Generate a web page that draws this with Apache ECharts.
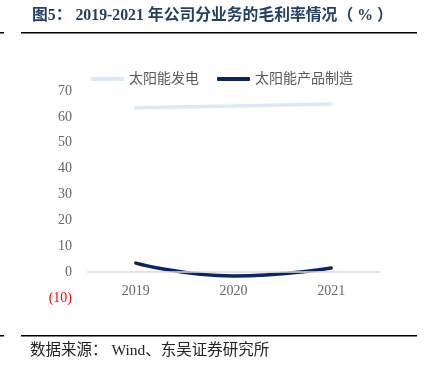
<!DOCTYPE html>
<html><head><meta charset="utf-8">
<script src="https://cdn.jsdelivr.net/npm/echarts@6/dist/echarts.min.js"></script>
<style>html,body{margin:0;padding:0;background:#fff}#c{width:425px;height:372px}</style>
</head><body><div id="c"></div>
<script>
const categories = ['2019', '2020', '2021'];
const solarPower = [63.5, 64.2, 65.0];
const solarProducts = [3.5, -1.5, 1.6];
const yTicks = { min: -10, max: 70, interval: 10 };
const seriesNames = ['太阳能发电', '太阳能产品制造'];

const chart = echarts.init(document.getElementById('c'), null, { renderer: 'canvas' });
const serif = '"Liberation Serif","Noto Sans CJK SC",serif';
chart.setOption({
  animation: false,
  backgroundColor: '#fff',
  grid: { left: 87, right: 45, top: 91, bottom: 74 },
  legend: {
    top: 67, left: 86, itemGap: 18, itemWidth: 33, itemHeight: 4,
    icon: 'roundRect',
    textStyle: { color: '#595959', fontSize: 14, fontFamily: serif },
    data: seriesNames
  },
  xAxis: {
    type: 'category', data: categories, boundaryGap: true,
    axisLine: { show: false, onZero: false },
    axisTick: { show: false },
    axisLabel: { color: '#666', fontSize: 14, fontFamily: serif, margin: -14 }
  },
  yAxis: {
    type: 'value', min: yTicks.min, max: yTicks.max, interval: yTicks.interval,
    splitLine: { show: false }, axisLine: { show: false }, axisTick: { show: false },
    axisLabel: {
      fontSize: 14, fontFamily: serif, margin: 15,
      formatter: v => v < 0 ? '{neg|(' + Math.abs(v) + ')}' : '{pos|' + v + '}',
      rich: {
        neg: { color: '#ff0000', fontSize: 14, fontFamily: serif },
        pos: { color: '#666', fontSize: 14, fontFamily: serif }
      }
    }
  },
  series: [
    { name: seriesNames[0], type: 'line', data: solarPower, smooth: true, symbol: 'none',
      color: '#dce8f5', lineStyle: { width: 3.5, color: '#dce8f5', cap: 'round' },
      markLine: { silent: true, symbol: 'none', label: { show: false },
        lineStyle: { color: '#d9d9d9', width: 1.5, type: 'solid' }, data: [{ yAxis: 0 }] } },
    { name: seriesNames[1], type: 'line', data: solarProducts, smooth: true, symbol: 'none',
      color: '#0b2466', lineStyle: { width: 3.5, color: '#0b2466', cap: 'round' } }
  ],
  graphic: [
    { type: 'text', left: 32, top: 8, style: { text: '图5： 2019-2021 年公司分业务的毛利率情况（ % ）',
      fill: '#243f60', font: 'bold 15.8px "Liberation Serif","Noto Sans CJK SC",serif' } },
    { type: 'rect', shape: { x: 21, y: 32, width: 396, height: 1.5 }, style: { fill: '#000' } },
    { type: 'rect', shape: { x: 0, y: 32, width: 4, height: 1.5 }, style: { fill: '#000' } },
    { type: 'rect', shape: { x: 21, y: 335, width: 396, height: 1.5 }, style: { fill: '#000' } },
    { type: 'rect', shape: { x: 0, y: 335, width: 4, height: 1.5 }, style: { fill: '#000' } },
    { type: 'text', left: 30, top: 343, style: { text: '数据来源： Wind、东吴证券研究所',
      fill: '#222', font: '15.5px "Liberation Serif","Noto Sans CJK SC",serif' } }
  ]
});
</script></body></html>
